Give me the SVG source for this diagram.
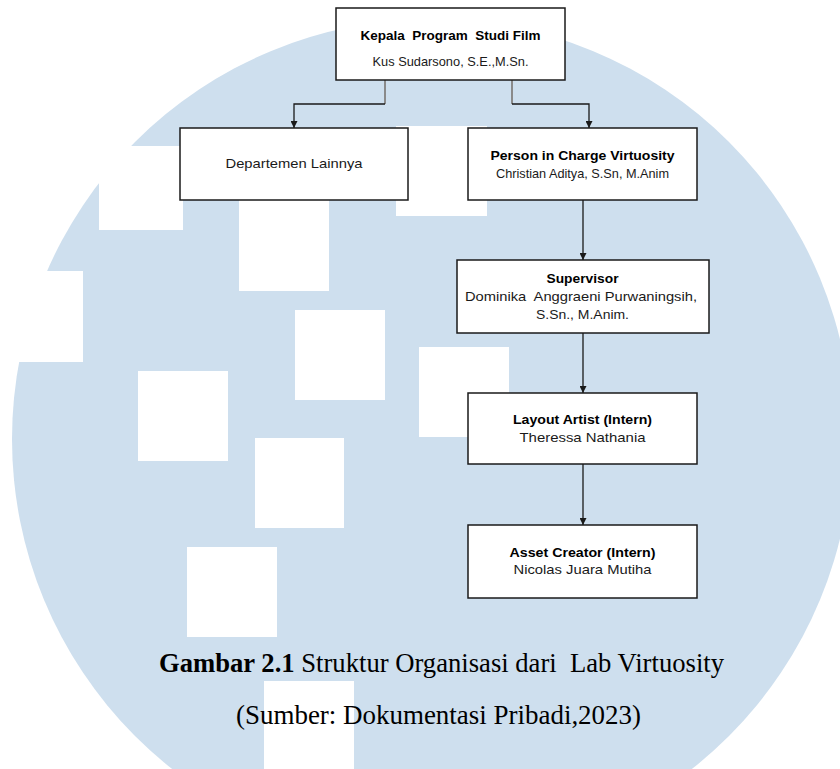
<svg xmlns="http://www.w3.org/2000/svg" width="840" height="769" viewBox="0 0 840 769">
<style>
.box{fill:#ffffff;stroke:#1a1a1a;stroke-width:1.5}
.sq{fill:#ffffff}
.t{font-family:"Liberation Sans",Arial,sans-serif;font-size:13px;fill:#1a1a1a;text-anchor:middle;white-space:pre}
.b{font-weight:bold;fill:#000}
.ln{fill:none;stroke:#1a1a1a;stroke-width:1.3}
.gl{fill:none;stroke:#8a8a8a;stroke-width:2}
.cap{font-family:"Liberation Serif","Times New Roman",serif;font-size:26.5px;fill:#000;text-anchor:middle;white-space:pre}
</style>
<defs>
<marker id="ah" viewBox="0 0 10 10" refX="10" refY="5" markerWidth="7" markerHeight="7" markerUnits="userSpaceOnUse" orient="auto">
<path d="M0,0 L10,5 L0,10 Z" fill="#1a1a1a"/>
</marker>
</defs>
<rect width="840" height="769" fill="#ffffff"/>
<g id="watermark">
<circle cx="432" cy="439" r="420" fill="#cedfee"/>
<rect class="sq" x="99" y="146" width="84" height="84"/>
<rect class="sq" x="-7" y="271" width="90" height="91"/>
<rect class="sq" x="239" y="200" width="90" height="91"/>
<rect class="sq" x="396" y="126" width="91" height="90"/>
<rect class="sq" x="295" y="310" width="90" height="90"/>
<rect class="sq" x="419" y="347" width="90" height="90"/>
<rect class="sq" x="138" y="371" width="90" height="90"/>
<rect class="sq" x="255" y="438" width="89" height="90"/>
<rect class="sq" x="187" y="547" width="90" height="90"/>
<rect class="sq" x="264" y="681" width="90" height="90"/>
</g>
<g id="connectors">
<path class="gl" d="M385,80 V104"/>
<path class="gl" d="M512,80 V104"/>
<path class="ln" d="M385,104 H294 V128" marker-end="url(#ah)"/>
<path class="ln" d="M512,104 H589 V128" marker-end="url(#ah)"/>
<path class="ln" d="M583,200 V260" marker-end="url(#ah)"/>
<path class="ln" d="M583,333 V393" marker-end="url(#ah)"/>
<path class="ln" d="M583,464 V525" marker-end="url(#ah)"/>
</g>
<g id="node-kepala">
<rect class="box" x="336" y="8" width="229" height="72"/>
<text class="t b" x="450.5" y="40" textLength="180" lengthAdjust="spacingAndGlyphs">Kepala  Program  Studi Film</text>
<text class="t" x="450.5" y="66" textLength="156" lengthAdjust="spacingAndGlyphs">Kus Sudarsono, S.E.,M.Sn.</text>
</g>
<g id="node-departemen">
<rect class="box" x="180" y="128" width="228" height="72"/>
<text class="t" x="294" y="168" textLength="137" lengthAdjust="spacingAndGlyphs">Departemen Lainnya</text>
</g>
<g id="node-pic">
<rect class="box" x="468" y="128" width="229" height="72"/>
<text class="t b" x="582.5" y="160" textLength="184" lengthAdjust="spacingAndGlyphs">Person in Charge Virtuosity</text>
<text class="t" x="582.5" y="178" textLength="173" lengthAdjust="spacingAndGlyphs">Christian Aditya, S.Sn, M.Anim</text>
</g>
<g id="node-supervisor">
<rect class="box" x="457" y="260" width="252" height="73"/>
<text class="t b" x="582.5" y="283" textLength="72" lengthAdjust="spacingAndGlyphs">Supervisor</text>
<text class="t" x="581" y="301" textLength="232" lengthAdjust="spacingAndGlyphs">Dominika  Anggraeni Purwaningsih,</text>
<text class="t" x="582.5" y="319" textLength="93" lengthAdjust="spacingAndGlyphs">S.Sn., M.Anim.</text>
</g>
<g id="node-layout">
<rect class="box" x="468" y="393" width="229" height="71"/>
<text class="t b" x="582.5" y="424" textLength="139" lengthAdjust="spacingAndGlyphs">Layout Artist (Intern)</text>
<text class="t" x="582.5" y="442" textLength="126" lengthAdjust="spacingAndGlyphs">Theressa Nathania</text>
</g>
<g id="node-asset">
<rect class="box" x="468" y="525" width="229" height="73"/>
<text class="t b" x="582.5" y="557" textLength="146" lengthAdjust="spacingAndGlyphs">Asset Creator (Intern)</text>
<text class="t" x="582.5" y="574" textLength="138" lengthAdjust="spacingAndGlyphs">Nicolas Juara Mutiha</text>
</g>
<g id="caption">
<text class="cap" x="441.5" y="672" textLength="565" lengthAdjust="spacingAndGlyphs"><tspan font-weight="bold">Gambar 2.1</tspan> Struktur Organisasi dari  Lab Virtuosity</text>
<text class="cap" x="438.5" y="724" textLength="405" lengthAdjust="spacingAndGlyphs">(Sumber: Dokumentasi Pribadi,2023)</text>
</g>
</svg>
